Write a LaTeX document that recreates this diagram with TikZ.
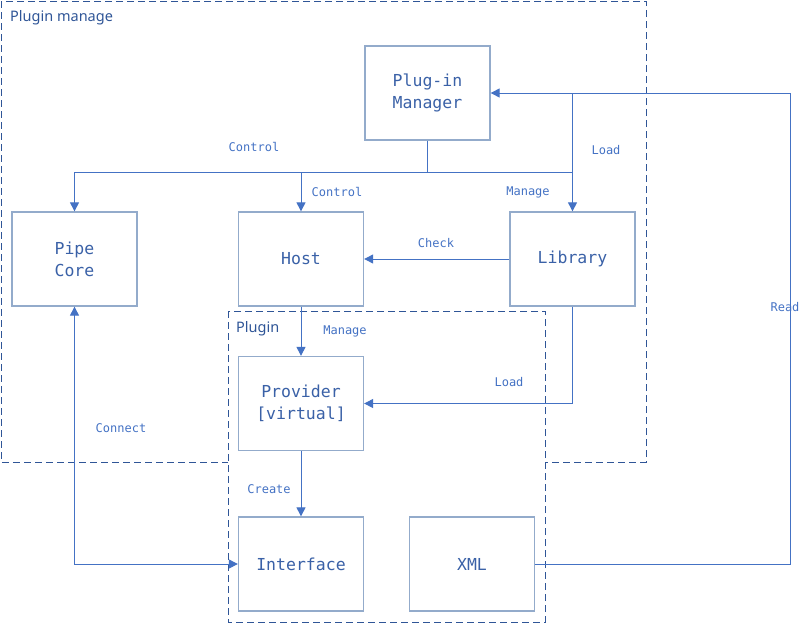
\documentclass[tikz,border=0pt]{standalone}
\usepackage{fontspec}
\setmainfont{Noto Sans}
\setmonofont{DejaVu Sans Mono}
\usetikzlibrary{arrows.meta}
\definecolor{linkblue}{HTML}{4472C4}
\definecolor{boxgray}{HTML}{93ABCB}
\definecolor{groupblue}{HTML}{2F5597}

\begin{document}
\begin{tikzpicture}[x=1pt, y=-1pt,
	box/.style={draw=boxgray, line width=1.3pt, minimum width=125pt, minimum height=94pt,
		inner sep=0pt, align=center, text=linkblue!85!black,
		font=\fontsize{16.5}{22}\selectfont\ttfamily},
	link/.style={draw=linkblue, line width=1pt, -{Triangle[length=9pt, width=9pt]}},
	wire/.style={draw=linkblue, line width=1pt},
	tag/.style={text=linkblue, font=\fontsize{12}{14}\selectfont\ttfamily},
	group/.style={draw=groupblue, line width=1pt, dash pattern=on 7pt off 4pt},
	grouplabel/.style={text=groupblue, anchor=west, inner sep=0pt, font=\fontsize{14.5}{16}\selectfont}]
	\useasboundingbox (0,0) rectangle (808,624);
	% groups
	\draw [group] (1,1) rectangle (646,462);
	\node [grouplabel] (managelabel) at (10,18) {Plugin manage};
	\draw [group, fill=white] (228,311) rectangle (545,622);
	\node [grouplabel] (pluginlabel) at (236,329) {Plugin};
	% boxes
	\node [box] (mgr) at (427.5,93) {Plug-in\\Manager};
	\node [box] (pipe) at (74.5,259) {Pipe\\Core};
	\node [box] (host) at (301,259) {Host};
	\node [box] (lib) at (572.5,259) {Library};
	\node [box] (prov) at (301,403.5) {Provider\\{[}virtual{]}};
	\node [box] (iface) at (301,564) {Interface};
	\node [box] (xml) at (472,564) {XML};
	% connectors
	\coordinate (bus) at (427.5,172);
	\coordinate (readtop) at (790,93);
	\draw [wire] (mgr.south) -- (bus) -- (bus -| lib.north);
	\draw [link] (bus) -| (pipe.north);
	\draw [link] (bus) -| (host.north);
	\draw [link] (xml.east) -| (readtop) -- (mgr.east);
	\draw [link] (mgr.east -| lib.north) -- (lib.north);
	\draw [link] (lib.west) -- (host.east);
	\draw [link] (host.south) -- (prov.north);
	\draw [link] (lib.south) |- (prov.east);
	\draw [link] (prov.south) -- (iface.north);
	\draw [link, {Triangle[length=9pt, width=9pt]}-{Triangle[length=9pt, width=9pt]}] (pipe.south) |- (iface.west);
	% labels
	\node [tag] (controlpipe) at (254,147) {Control};
	\node [tag] (controlhost) at (337,192) {Control};
	\node [tag] (managelib) at (528,192) {Manage};
	\node [tag] (loadlib) at (606,150) {Load};
	\node [tag] (check) at (436,243) {Check};
	\node [tag] (manageprov) at (345,331) {Manage};
	\node [tag] (loadprov) at (509,382) {Load};
	\node [tag] (create) at (269,489) {Create};
	\node [tag] (connect) at (121,428) {Connect};
	\node [tag] (read) at (785,307) {Read};
\end{tikzpicture}
\end{document}
